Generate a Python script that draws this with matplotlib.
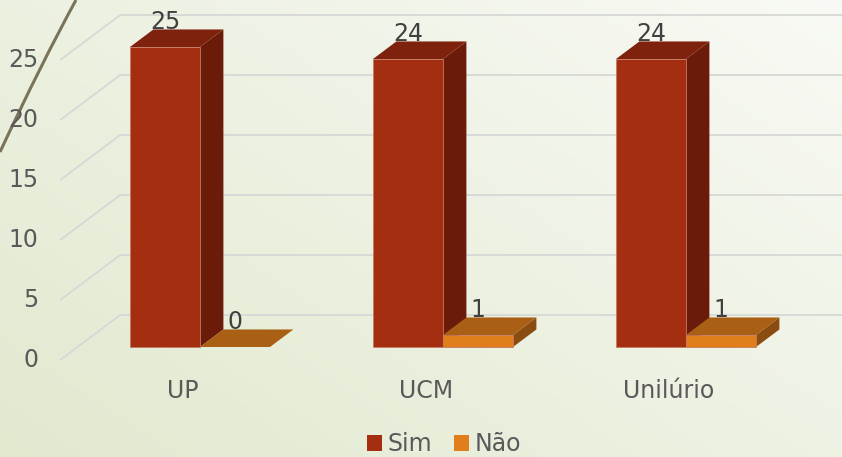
import numpy as np
import matplotlib
matplotlib.use("Agg")
import matplotlib.pyplot as plt
from matplotlib.patches import Polygon, Patch, PathPatch
from matplotlib.path import Path

# data
categories = ["UP", "UCM", "Unilúrio"]
sim = [25, 24, 24]
nao = [0, 1, 1]
yticks = [0, 5, 10, 15, 20, 25]

# colours (front, top, side)
sim_cols = ("#A32E10", "#7E220D", "#6A1B0A")
nao_cols = ("#E07E1B", "#A95F14", "#8A4C10")
text_col = "#595959"
grid_col = "#D6D8D6"

plt.rcParams["font.family"] = ["DejaVu Sans"]

W, H = 842, 457
fig = plt.figure(figsize=(W / 100, H / 100), dpi=100)

# background gradient
bg = fig.add_axes([0, 0, 1, 1], zorder=0)
gx, gy = np.meshgrid(np.linspace(0, 1, 200), np.linspace(0, 1, 120))
t = np.clip(0.55 * gx + 0.45 * gy, 0, 1)
c0 = np.array([0.882, 0.914, 0.812])
c1 = np.array([0.976, 0.980, 0.960])
img = c0[None, None, :] * (1 - t[..., None]) + c1[None, None, :] * t[..., None]
bg.imshow(img, origin="lower", extent=[0, 1, 0, 1], aspect="auto")
bg.axis("off")

# decorative curve
curve = Path([(76 / W, 1.0), (42 / W, 1 - 62 / H), (0, 1 - 152 / H)],
             [Path.MOVETO, Path.CURVE3, Path.CURVE3])
bg.add_patch(PathPatch(curve, fill=False, edgecolor="#7A7358", lw=2.2,
                       transform=bg.transAxes))

ax = fig.add_axes([0, 0, 1, 1], zorder=1)
ax.patch.set_alpha(0)
ax.axis("off")
# 243 px per category, 12 px per unit; bar front base at (200, 347) px
ax.set_xlim(-200 / 243, (W - 200) / 243)
ax.set_ylim((347 - H) / 12, 347 / 12)

DX, DY = 60 / 243, 45 / 12  # full depth vector
d0 = 0.29                   # depth of bar front face
bd = 0.39                   # bar depth
bw = 70 / 243               # bar width


def pt(x, v, d):
    return (x + (d - d0) * DX, v + (d - d0) * DY)


# gridlines: left wall + back wall
x_left = -0.504
for v in yticks:
    p0 = pt(x_left, v, 0)
    p1 = pt(x_left, v, 1)
    p2 = pt(5, v, 1)
    ax.plot([p0[0], p1[0], p2[0]], [p0[1], p1[1], p2[1]],
            color=grid_col, lw=1.3, zorder=1, solid_capstyle="butt")
    ax.text(p0[0] - 0.09, p0[1], str(v), ha="right", va="center",
            fontsize=17, color=text_col, zorder=2)


def bar3d(x0, x1, h, cols):
    front = [pt(x0, 0, d0), pt(x1, 0, d0), pt(x1, h, d0), pt(x0, h, d0)]
    top = [pt(x0, h, d0), pt(x1, h, d0), pt(x1, h, d0 + bd), pt(x0, h, d0 + bd)]
    side = [pt(x1, 0, d0), pt(x1, 0, d0 + bd), pt(x1, h, d0 + bd), pt(x1, h, d0)]
    ax.add_patch(Polygon(side, closed=True, facecolor=cols[2], edgecolor="none", zorder=3))
    ax.add_patch(Polygon(top, closed=True, facecolor=cols[1], edgecolor="none", zorder=3))
    if h > 0:
        ax.add_patch(Polygon(front, closed=True, facecolor=cols[0],
                             edgecolor="#C77A62", lw=0.6, zorder=3))


for i, cat in enumerate(categories):
    bar3d(i - bw, i, sim[i], sim_cols)
    bar3d(i, i + bw, nao[i], nao_cols)
    for x0, val in ((i - bw, sim[i]), (i, nao[i])):
        lx, ly = pt(x0 + bw / 2, val, d0 + bd)
        ax.text(x0 + bw / 2, ly, str(val), ha="center", va="baseline",
                fontsize=17, color="#404040", zorder=4)
    cx, _ = pt(i, 0, 0)
    ax.text(cx, -3.67, cat, ha="center", va="center", fontsize=17,
            color=text_col, zorder=4)

handles = [Patch(facecolor=sim_cols[0], label="Sim"),
           Patch(facecolor=nao_cols[0], label="Não")]
fig.legend(handles=handles, loc="center", bbox_to_anchor=(444 / W, 1 - 444 / H),
           ncol=2, frameon=False, fontsize=17, labelcolor=text_col,
           handlelength=0.65, handleheight=0.65, handletextpad=0.25,
           columnspacing=0.9, borderpad=0)

fig.savefig("out.png", dpi=100)
